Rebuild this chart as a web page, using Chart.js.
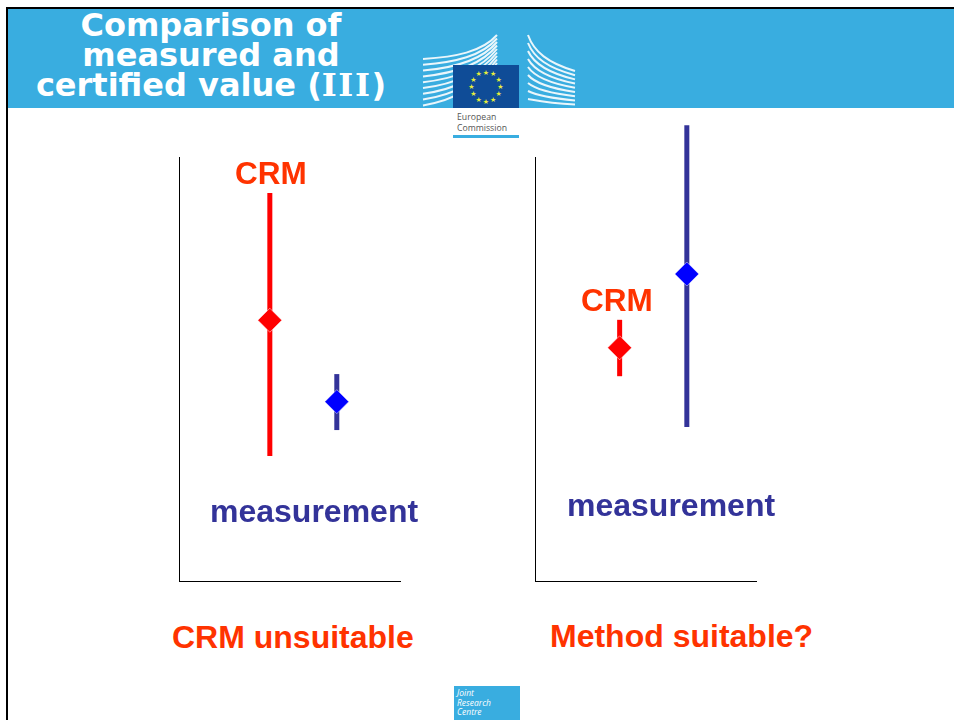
<!DOCTYPE html>
<html>
<head>
<meta charset="utf-8">
<title>Comparison of measured and certified value (III)</title>
<script src="https://cdn.jsdelivr.net/npm/chart.js@4"></script>
<style>
    html, body { margin: 0; padding: 0; background: #fff; overflow: hidden; }
    body { width: 954px; height: 720px; position: relative; font-family: "Liberation Sans", Arial, sans-serif; }
    #frameTop { position: absolute; left: 6px; top: 7px; width: 948px; height: 2px; background: #000; }
    #frameLeft { position: absolute; left: 6px; top: 7px; width: 2px; height: 713px; background: #000; }
    #header { position: absolute; left: 8px; top: 9px; width: 946px; height: 99px; background: #39ade0; }
    #title { position: absolute; left: 8px; top: 10px; width: 406px; text-align: center; color: #fff;
             font: bold 32px/30px "DejaVu Sans", Verdana, sans-serif; }
    #title span { font-family: "DejaVu Serif", serif; letter-spacing: 1.6px; }
    #logo { position: absolute; left: 420px; top: 30px; }
    #footer { position: absolute; left: 454px; top: 686px; width: 66px; height: 34px; background: #39ade0; color: #fff;
              font: italic 8.5px/9.5px "Open Sans", sans-serif; padding: 2px 0 0 3px; box-sizing: border-box; }
    .panel { position: absolute; top: 110px; }
    .label { position: absolute; font-weight: bold; white-space: nowrap; line-height: 1; }
    .crm { color: #ff3300; }
    .meas { color: #333399; }
</style>
</head>
<body>
<div id="frameTop"></div>
<div id="frameLeft"></div>
<div id="header"></div>
<div id="title">Comparison of<br>measured and<br>certified value (<span>III</span>)</div>

<svg id="logo" width="170" height="115" viewBox="0 0 170 115">
    <g id="wings" fill="none" stroke="#eaf6fb" stroke-width="2" style="filter:blur(0.3px)"></g>
    <rect x="33" y="35" width="66" height="43" fill="#0f4c97"/>
    <g id="stars" fill="#e6ee3c"></g>
    <rect x="33" y="78" width="66" height="30" fill="#fff"/>
    <text x="37" y="90" font-family="Open Sans" font-size="8.7" fill="#555">European</text>
    <text x="37" y="101" font-family="Open Sans" font-size="8.7" fill="#555">Commission</text>
    <rect x="33" y="105" width="66" height="3" fill="#39ade0"/>
</svg>

<canvas id="leftPanel" class="panel" width="240" height="480" style="left:170px"></canvas>
<canvas id="rightPanel" class="panel" width="240" height="480" style="left:526px"></canvas>

<div class="label crm" style="left:235px;top:158px;font-size:31.5px">CRM</div>
<div class="label meas" style="left:210px;top:495px;font-size:32px">measurement</div>
<div class="label crm" style="left:172px;top:621px;font-size:32px">CRM unsuitable</div>
<div class="label crm" style="left:581px;top:285px;font-size:31.5px">CRM</div>
<div class="label meas" style="left:567px;top:489px;font-size:32px">measurement</div>
<div class="label crm" style="left:550px;top:620px;font-size:32px">Method suitable?</div>

<div id="footer">Joint<br>Research<br>Centre</div>

<script>
// x position of each bar on a 0-100 axis, then low / centre / high
var left_x = [41.1, 71.4];
var left_crm = [29.5, 61.5, 91.5];
var left_measurement = [35.6, 42.3, 48.8];

var right_x = [38.3, 68.7];
var right_crm = [48.3, 55, 61.6];
var right_measurement = [36.3, 72.4, 107.5];

function rangeDataset(x, values, lineColor, pointColor) {
    return {
        type: 'line',
        data: [
            { x: x, y: values[0] },
            { x: x, y: values[1] },
            { x: x, y: values[2] }
        ],
        borderColor: lineColor,
        borderWidth: 5,
        borderCapStyle: 'butt',
        clip: false,
        pointStyle: 'rectRot',
        // only the middle point shows the diamond
        pointRadius: [0, 12, 0],
        pointBackgroundColor: pointColor,
        pointBorderColor: '#ffffff',
        pointBorderWidth: 0.5
    };
}

function createPanel(id, xs, crm, measurement) {
    var ctx = document.getElementById(id).getContext('2d');

    return new Chart(ctx, {
        type: 'scatter',
        data: {
            datasets: [
                rangeDataset(xs[0], crm, '#ff0000', '#ff0000'),
                rangeDataset(xs[1], measurement, '#333399', '#0000ff')
            ]
        },
        options: {
            responsive: false,
            animation: false,
            layout: { padding: { left: 1, top: 47, right: 10, bottom: 1 } },
            scales: {
                x: {
                    type: 'linear', min: 0, max: 100,
                    grid: { display: false },
                    ticks: { display: false },
                    border: { display: true, color: '#000000', width: 1 }
                },
                y: {
                    type: 'linear', min: 0, max: 100,
                    grid: { display: false },
                    ticks: { display: false },
                    border: { display: true, color: '#000000', width: 1 }
                }
            },
            plugins: {
                legend: { display: false },
                tooltip: { enabled: false }
            }
        }
    });
}

function drawLogo() {
    var svg = 'http://www.w3.org/2000/svg';
    var wings = document.getElementById('wings');
    var i, p;
    for (i = 0; i < 9; i++) {
        p = document.createElementNS(svg, 'path');
        p.setAttribute('d', 'M3 ' + (29 + i * 5.8) + ' C35 ' + (27 + i * 5.4) + ' 62 ' + (22 + i * 4) + ' 77 ' + (5 + i * 3.5));
        wings.appendChild(p);
        p = document.createElementNS(svg, 'path');
        p.setAttribute('d', 'M108 ' + (5 + i * 8) + ' C114 ' + (22 + i * 6) + ' 128 ' + (33 + i * 5) + ' 155 ' + (41 + i * 4.2));
        wings.appendChild(p);
    }
    var stars = document.getElementById('stars');
    for (i = 0; i < 12; i++) {
        var a = i * Math.PI / 6;
        var c = document.createElementNS(svg, 'text');
        c.setAttribute('x', 66 + 14.5 * Math.sin(a));
        c.setAttribute('y', 56.5 - 14.5 * Math.cos(a) + 2.5);
        c.setAttribute('text-anchor', 'middle');
        c.setAttribute('font-size', '7');
        c.setAttribute('font-family', 'DejaVu Sans');
        c.textContent = '\u2605';
        stars.appendChild(c);
    }
}

drawLogo();
createPanel('leftPanel', left_x, left_crm, left_measurement);
createPanel('rightPanel', right_x, right_crm, right_measurement);
</script>
</body>
</html>
